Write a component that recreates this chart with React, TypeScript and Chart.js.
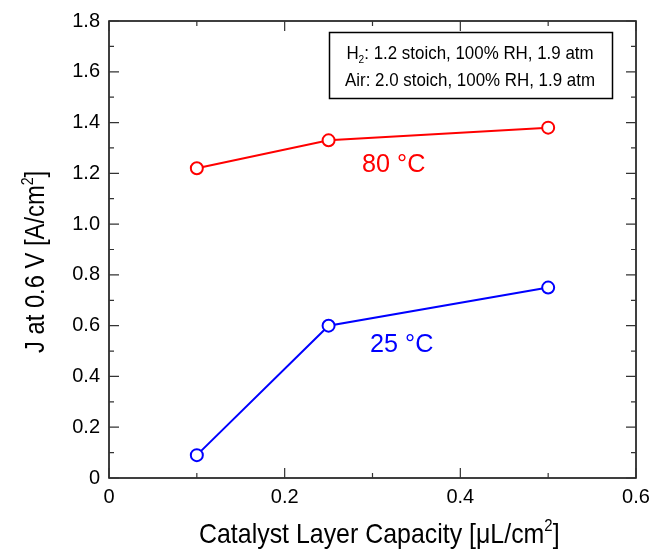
import React, { useEffect, useRef } from "react";
import { Chart, registerables } from "chart.js";

Chart.register(...registerables);

const capacity = [0.1, 0.25, 0.5];
const j80 = [1.22, 1.33, 1.38];
const j25 = [0.09, 0.6, 0.75];
const xTicks = [0, 0.2, 0.4, 0.6];
const yTicks = [0, 0.2, 0.4, 0.6, 0.8, 1.0, 1.2, 1.4, 1.6, 1.8];
const label80 = "80 °C";
const label25 = "25 °C";
const boxLine1 = [{ t: "H" }, { t: "2", sub: true }, { t: ": 1.2 stoich, 100% RH, 1.9 atm" }];
const boxLine2 = [{ t: "Air: 2.0 stoich, 100% RH, 1.9 atm" }];
const xTitle = [{ t: "Catalyst Layer Capacity [μL/cm" }, { t: "2", sup: true }, { t: "]" }];
const yTitle = [{ t: "J at 0.6 V [A/cm" }, { t: "2", sup: true }, { t: "]" }];

const FONT = "'Liberation Sans', Arial, sans-serif";

type Part = { t: string; sup?: boolean; sub?: boolean };

function richWidth(ctx: CanvasRenderingContext2D, parts: Part[], size: number) {
  let w = 0;
  for (const p of parts) {
    const s = p.sup || p.sub ? size * 0.6 : size;
    ctx.font = `${s}px ${FONT}`;
    w += ctx.measureText(p.t).width;
  }
  return w;
}

function drawRich(
  ctx: CanvasRenderingContext2D,
  parts: Part[],
  x: number,
  y: number,
  size: number,
  sx: number,
  align: "left" | "center",
  color: string,
  rotate = false
) {
  ctx.save();
  ctx.translate(x, y);
  if (rotate) ctx.rotate(-Math.PI / 2);
  ctx.scale(sx, 1);
  ctx.fillStyle = color;
  ctx.textBaseline = "alphabetic";
  ctx.textAlign = "left";
  let cx = align === "center" ? -richWidth(ctx, parts, size) / 2 : 0;
  for (const p of parts) {
    const s = p.sup || p.sub ? size * 0.6 : size;
    ctx.font = `${s}px ${FONT}`;
    const dy = p.sup ? -size * 0.42 : p.sub ? size * 0.2 : 0;
    ctx.fillText(p.t, cx, dy);
    cx += ctx.measureText(p.t).width;
  }
  ctx.restore();
}

const decorPlugin = {
  id: "decor",
  afterDraw(chart: any) {
    const ctx: CanvasRenderingContext2D = chart.ctx;
    const { left, right, top, bottom } = chart.chartArea;
    const xs = chart.scales.x;
    const ys = chart.scales.y;
    ctx.save();
    ctx.strokeStyle = "#000";
    ctx.lineWidth = 1.5;
    ctx.strokeRect(left, top, right - left, bottom - top);
    ctx.lineWidth = 1.2;
    ctx.strokeStyle = "#333";
    for (let i = 0; i <= 18; i++) {
      const v = i / 10;
      const py = ys.getPixelForValue(v);
      const len = i % 2 === 0 ? 10 : 5;
      ctx.beginPath();
      ctx.moveTo(left, py);
      ctx.lineTo(left + len, py);
      ctx.moveTo(right, py);
      ctx.lineTo(right - len, py);
      ctx.stroke();
    }
    for (let i = 0; i <= 6; i++) {
      const v = i / 10;
      const px = xs.getPixelForValue(v);
      const len = i % 2 === 0 ? 10 : 5;
      ctx.beginPath();
      ctx.moveTo(px, bottom);
      ctx.lineTo(px, bottom - len);
      ctx.moveTo(px, top);
      ctx.lineTo(px, top + len);
      ctx.stroke();
    }
    // legend box
    ctx.strokeStyle = "#000";
    ctx.lineWidth = 1.5;
    ctx.strokeRect(329.5, 32.5, 283, 66);
    ctx.restore();
    drawRich(ctx, boxLine1, 470, 59, 19, 0.89, "center", "#000");
    drawRich(ctx, boxLine2, 470, 86, 19, 0.89, "center", "#000");
    drawRich(ctx, [{ t: label80 }], 362, 172, 26, 0.97, "left", "#ff0000");
    drawRich(ctx, [{ t: label25 }], 370, 352, 26, 0.97, "left", "#0000ff");
    drawRich(ctx, xTitle, 199, 543, 28, 0.89, "left", "#000");
    drawRich(ctx, yTitle, 44, 353, 27, 0.88, "left", "#000", true);
  },
};

export default function App() {
  const ref = useRef<HTMLCanvasElement>(null);
  useEffect(() => {
    if (!ref.current) return;
    const fmt = (v: number) => (Math.abs(v) < 1e-9 ? "0" : (Math.round(v * 10) / 10).toFixed(1));
    const chart = new Chart(ref.current, {
      type: "scatter",
      data: {
        datasets: [
          {
            label: label80,
            data: capacity.map((x, i) => ({ x, y: j80[i] })),
            showLine: true,
            borderColor: "#ff0000",
            backgroundColor: "#ffffff",
            borderWidth: 2,
            pointRadius: 6,
            pointBorderWidth: 2,
            pointBorderColor: "#ff0000",
            pointBackgroundColor: "#ffffff",
          },
          {
            label: label25,
            data: capacity.map((x, i) => ({ x, y: j25[i] })),
            showLine: true,
            borderColor: "#0000ff",
            backgroundColor: "#ffffff",
            borderWidth: 2,
            pointRadius: 6,
            pointBorderWidth: 2,
            pointBorderColor: "#0000ff",
            pointBackgroundColor: "#ffffff",
          },
        ],
      },
      options: {
        animation: false,
        responsive: false,
        layout: { padding: { top: 17, right: 26, left: 0, bottom: 0 } },
        plugins: { legend: { display: false }, tooltip: { enabled: false } },
        scales: {
          x: {
            type: "linear",
            min: 0,
            max: 0.6,
            afterFit: (s: any) => {
              s.height = 72;
            },
            afterBuildTicks: (s: any) => {
              s.ticks = xTicks.map((v) => ({ value: v }));
            },
            grid: { display: false, drawTicks: false },
            border: { display: false },
            ticks: {
              padding: 7,
              color: "#000",
              font: { family: FONT, size: 20 },
              callback: (v: any) => fmt(Number(v)),
              maxRotation: 0,
            },
          },
          y: {
            type: "linear",
            min: 0,
            max: 1.8,
            afterFit: (s: any) => {
              s.width = 109;
            },
            afterBuildTicks: (s: any) => {
              s.ticks = yTicks.map((v) => ({ value: v }));
            },
            grid: { display: false, drawTicks: false },
            border: { display: false },
            ticks: {
              padding: 9,
              color: "#000",
              font: { family: FONT, size: 20 },
              callback: (v: any) => fmt(Number(v)),
            },
          },
        },
      },
      plugins: [decorPlugin],
    });
    return () => chart.destroy();
  }, []);
  return (
    <div style={{ position: "absolute", left: 0, top: 0, width: 662, height: 550, background: "#fff" }}>
      <canvas ref={ref} width={662} height={550} style={{ width: 662, height: 550 }} />
    </div>
  );
}
